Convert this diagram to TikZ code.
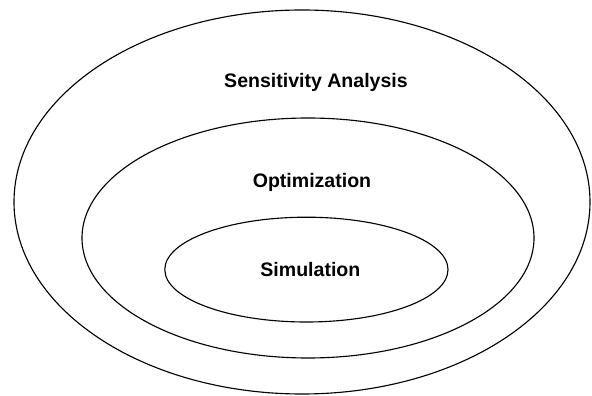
\documentclass[tikz,border=0pt]{standalone}
\usepackage{fontspec}
\setmainfont{Liberation Sans}
\begin{document}
\begin{tikzpicture}[line width=0.8pt]
            \useasboundingbox (0,0) rectangle (14.8,9.9);
            % Insiemi annidati
            \coordinate (E) at (7.55,4.85);
            \coordinate (O) at (7.70,3.95);
            \coordinate (S) at (7.66,3.16);
            \draw (E) ellipse [x radius=7.2, y radius=4.8];
            \draw (O) ellipse [x radius=5.65, y radius=3.0];
            \draw (S) ellipse [x radius=3.54, y radius=1.31];

            % Etichette
            \tikzset{etichetta/.style={font=\fontsize{13.9}{16}\selectfont\bfseries}}
            \node[etichetta] (sens) at (7.9,7.85) {Sensitivity Analysis};
            \node[etichetta] (ottim) at (7.8,5.33) {Optimization};
            \node[etichetta] (simul) at (7.76,3.15) {Simulation};
        \end{tikzpicture}
\end{document}
